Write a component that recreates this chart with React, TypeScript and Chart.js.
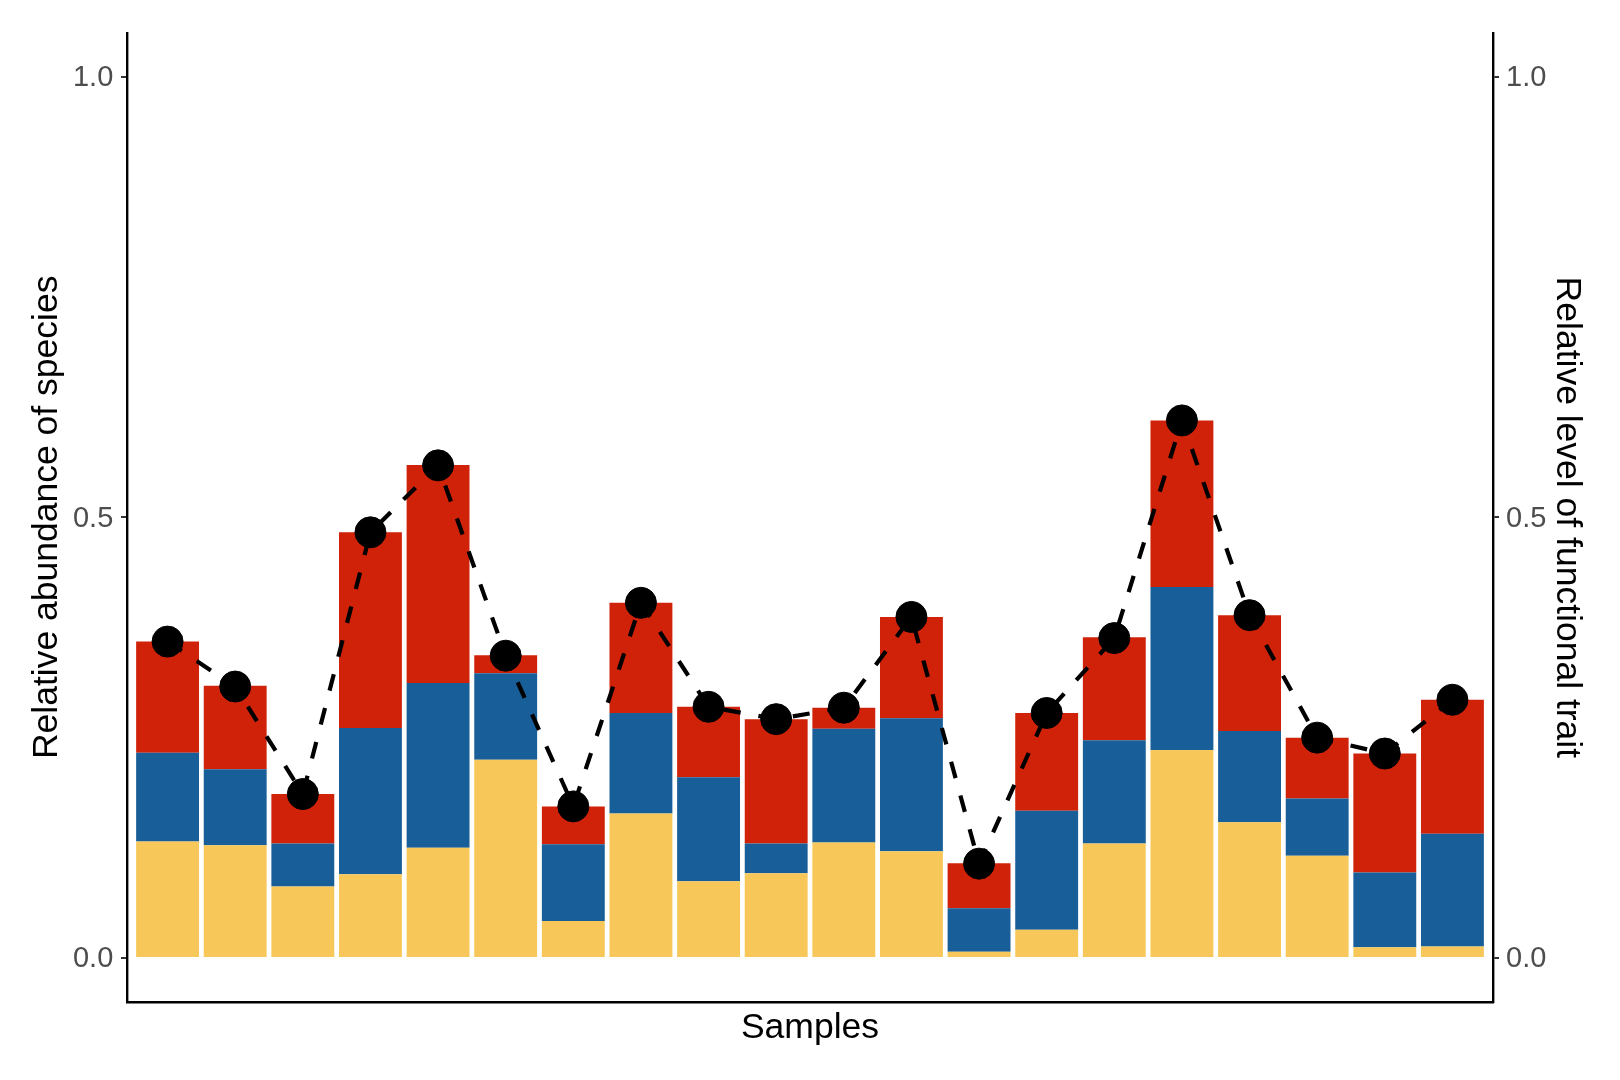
import React, { useEffect, useRef } from 'react';
import { Chart, registerables } from 'chart.js';

Chart.register(...registerables);

// ---- data ----
const samples = [1, 2, 3, 4, 5, 6, 7, 8, 9, 10, 11, 12, 13, 14, 15, 16, 17, 18, 19, 20];
const yellowShare = [0.132, 0.128, 0.081, 0.095, 0.125, 0.225, 0.042, 0.164, 0.087, 0.096, 0.131, 0.121, 0.007, 0.032, 0.130, 0.236, 0.154, 0.116, 0.012, 0.013];
const blueShare = [0.101, 0.086, 0.049, 0.166, 0.187, 0.098, 0.087, 0.114, 0.118, 0.034, 0.129, 0.151, 0.0495, 0.135, 0.117, 0.185, 0.1035, 0.065, 0.085, 0.128];
const redShare = [0.126, 0.095, 0.056, 0.222, 0.2475, 0.0205, 0.043, 0.125, 0.080, 0.141, 0.024, 0.115, 0.051, 0.111, 0.117, 0.189, 0.1315, 0.069, 0.135, 0.152];
const traitLevel = [0.359, 0.308, 0.186, 0.483, 0.559, 0.343, 0.172, 0.403, 0.285, 0.271, 0.284, 0.387, 0.107, 0.278, 0.363, 0.610, 0.389, 0.250, 0.232, 0.293];
const yTickValues = [0, 0.5, 1.0];

const leftTitle = 'Relative abundance of species';
const rightTitle = 'Relative level of functional trait';
const bottomTitle = 'Samples';

const YELLOW = '#F7C859';
const BLUE = '#185E99';
const RED = '#D02109';
const FONT = '"Liberation Sans", Arial, Helvetica, sans-serif';

export default function App() {
  const ref = useRef<HTMLCanvasElement | null>(null);

  useEffect(() => {
    if (!ref.current) return;
    const pts = (arr: number[]) => samples.map((s, i) => ({ x: s, y: arr[i] }));
    const tickFont = { family: FONT, size: 29 };
    const titleFont = { family: FONT, size: 35.5 };
    const setYTicks = (scale: any) => {
      scale.ticks = yTickValues.map((v) => ({ value: v }));
    };

    const chart = new Chart(ref.current, {
      type: 'bar',
      data: {
        datasets: [
          {
            type: 'line',
            label: 'trait',
            data: pts(traitLevel),
            xAxisID: 'x',
            yAxisID: 'y1',
            borderColor: '#000000',
            borderWidth: 4.2,
            borderDash: [17, 18],
            pointRadius: 15.5,
            pointBorderWidth: 1,
            pointBackgroundColor: '#000000',
            pointBorderColor: '#000000',
            fill: false,
            tension: 0,
            order: 0,
          } as any,
          {
            type: 'bar',
            label: 'yellow',
            data: pts(yellowShare),
            backgroundColor: YELLOW,
            borderWidth: 0,
            yAxisID: 'y',
            order: 1,
          },
          {
            type: 'bar',
            label: 'blue',
            data: pts(blueShare),
            backgroundColor: BLUE,
            borderWidth: 0,
            yAxisID: 'y',
            order: 1,
          },
          {
            type: 'bar',
            label: 'red',
            data: pts(redShare),
            backgroundColor: RED,
            borderWidth: 0,
            yAxisID: 'y',
            order: 1,
          },
        ],
      },
      options: {
        animation: false,
        responsive: false,
        devicePixelRatio: 1,
        datasets: {
          bar: { categoryPercentage: 1, barPercentage: 0.93 },
        },
        layout: { padding: { top: 32.7, left: 0, right: 0, bottom: 0 } },
        plugins: {
          legend: { display: false },
          tooltip: { enabled: false },
        },
        scales: {
          x: {
            type: 'linear',
            stacked: true,
            offset: false,
            min: 0.4,
            max: 20.6,
            afterBuildTicks: (scale: any) => {
              scale.ticks = samples.map((v) => ({ value: v }));
            },
            ticks: { display: false },
            grid: { display: false },
            border: { display: true, color: '#000000', width: 2.4 },
            title: {
              display: true,
              text: bottomTitle,
              color: '#000000',
              font: titleFont,
              padding: { top: 30, bottom: 30 },
            },
            afterFit: (scale: any) => {
              scale.height = 78;
            },
          },
          y: {
            type: 'linear',
            position: 'left',
            stacked: true,
            min: -0.05,
            max: 1.05,
            afterBuildTicks: setYTicks,
            ticks: {
              color: '#4D4D4D',
              font: tickFont,
              padding: 7.7,
              labelOffset: 1.5,
              callback: (v: any) => Number(v).toFixed(1),
            },
            grid: {
              drawOnChartArea: false,
              drawTicks: true,
              tickLength: 6,
              tickColor: '#333333',
              lineWidth: 2,
            },
            border: { display: true, color: '#000000', width: 2.4 },
            title: {
              display: true,
              text: leftTitle,
              color: '#000000',
              font: titleFont,
              padding: { top: 25.7, bottom: 25.7 },
            },
            afterFit: (scale: any) => {
              scale.width = 127;
            },
          },
          y1: {
            type: 'linear',
            position: 'right',
            min: -0.05,
            max: 1.05,
            afterBuildTicks: setYTicks,
            ticks: {
              color: '#4D4D4D',
              font: tickFont,
              padding: 7,
              labelOffset: 1.5,
              callback: (v: any) => Number(v).toFixed(1),
            },
            grid: {
              drawOnChartArea: false,
              drawTicks: true,
              tickLength: 6,
              tickColor: '#333333',
              lineWidth: 2,
            },
            border: { display: true, color: '#000000', width: 2.4 },
            title: {
              display: true,
              text: rightTitle,
              color: '#000000',
              font: titleFont,
              padding: { top: 32, bottom: 32 },
            },
            afterFit: (scale: any) => {
              scale.width = 127;
            },
          },
        },
      } as any,
    });

    return () => {
      chart.destroy();
    };
  }, []);

  return (
    <div style={{ position: 'absolute', left: 0, top: 0, width: 1620, height: 1080, background: '#ffffff' }}>
      <canvas ref={ref} width={1620} height={1080} style={{ display: 'block', width: 1620, height: 1080 }} />
    </div>
  );
}
